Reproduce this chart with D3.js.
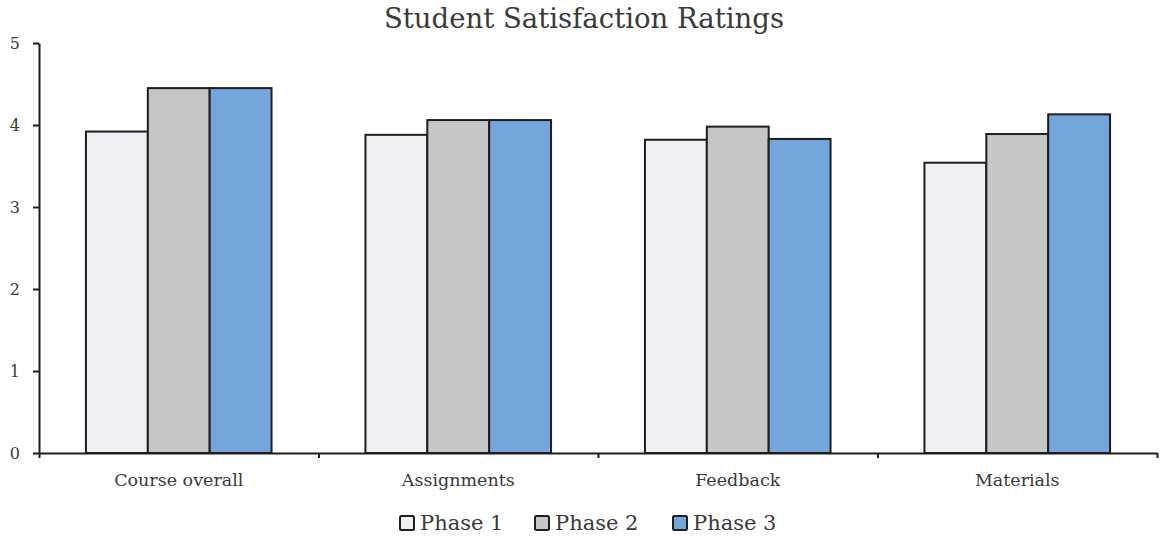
<!DOCTYPE html>
<html>
<head>
<meta charset="utf-8">
<script src="https://cdn.jsdelivr.net/npm/d3@7"></script>
<style>
  html, body { margin: 0; padding: 0; background: #ffffff; }
  svg { display: block; }
  text { font-family: "DejaVu Serif", "Liberation Serif", serif; fill: #3a3a3a; }
</style>
</head>
<body>
<svg id="chart" width="1160" height="544"></svg>
<script>
// Mean satisfaction rating per course aspect, for each phase
const categories = ["Course overall", "Assignments", "Feedback", "Materials"];
const phases = ["Phase 1", "Phase 2", "Phase 3"];
const phase1 = [3.92, 3.88, 3.82, 3.54];
const phase2 = [4.45, 4.06, 3.98, 3.89];
const phase3 = [4.45, 4.06, 3.83, 4.13];
const yTicks = [0, 1, 2, 3, 4, 5];
const title = "Student Satisfaction Ratings";

const series = [phase1, phase2, phase3];
const colors = ["#eef0f3", "#c5c6c8", "#74a6dc"];

const svg = d3.select("#chart");
const W = 1160, H = 544;
const margin = { top: 43, right: 3, bottom: 91, left: 39 };
const plotW = W - margin.left - margin.right;
const plotH = H - margin.top - margin.bottom;

const g = svg.append("g").attr("transform", `translate(${margin.left},${margin.top})`);

const x0 = d3.scaleBand().domain(categories).range([0, plotW]).padding(0);
const groupPad = x0.bandwidth() * 0.168;
const x1 = d3.scaleBand().domain(phases).range([groupPad, x0.bandwidth() - groupPad]).padding(0);
const y = d3.scaleLinear().domain([0, 5]).range([plotH, 0]);

// Bars
const rows = categories.map((c, i) => ({ cat: c, vals: phases.map((p, j) => ({ phase: p, v: series[j][i], k: j })) }));
g.selectAll("g.grp").data(rows).join("g")
  .attr("class", "grp")
  .attr("transform", d => `translate(${x0(d.cat)},0)`)
  .selectAll("rect").data(d => d.vals).join("rect")
  .attr("x", d => x1(d.phase))
  .attr("y", d => y(d.v))
  .attr("width", x1.bandwidth())
  .attr("height", d => y(0) - y(d.v))
  .attr("fill", d => colors[d.k])
  .attr("stroke", "#1e1e1e")
  .attr("stroke-width", 2);

// Y axis
const yAxis = g.append("g")
  .call(d3.axisLeft(y).tickValues(yTicks).tickFormat(d3.format("d")).tickSize(6).tickSizeOuter(0).tickPadding(13));
yAxis.select(".domain").attr("stroke", "#1e1e1e").attr("stroke-width", 2);
yAxis.selectAll(".tick line").attr("stroke", "#1e1e1e").attr("stroke-width", 2);
yAxis.selectAll(".tick text").attr("font-size", 16).attr("font-family", null).attr("fill", "#555");

// X axis: boundary ticks between categories
const xEdge = d3.scaleLinear().domain([0, categories.length]).range([0, plotW]);
const xAxis = g.append("g").attr("transform", `translate(0,${plotH})`)
  .call(d3.axisBottom(xEdge).tickValues(d3.range(categories.length + 1)).tickFormat("").tickSize(5).tickSizeOuter(0));
xAxis.select(".domain").attr("stroke", "#1e1e1e").attr("stroke-width", 2);
xAxis.selectAll(".tick line").attr("stroke", "#1e1e1e").attr("stroke-width", 2);

// Category labels
const xLab = g.append("g").attr("transform", `translate(0,${plotH})`)
  .call(d3.axisBottom(x0).tickSize(0).tickPadding(21));
xLab.select(".domain").remove();
xLab.selectAll(".tick text").attr("font-size", 17.5).attr("font-family", null).attr("fill", "#444");

// Title
svg.append("text")
  .attr("x", 584).attr("y", 28)
  .attr("text-anchor", "middle")
  .attr("font-size", 27.5)
  .text(title);

// Legend
const legendX = [400, 535, 673];
const legend = svg.append("g");
const li = legend.selectAll("g").data(phases).join("g")
  .attr("transform", (d, i) => `translate(${legendX[i]},516)`);
li.append("rect").attr("width", 14).attr("height", 14).attr("rx", 1.5)
  .attr("fill", (d, i) => colors[i]).attr("stroke", "#1e1e1e").attr("stroke-width", 2);
li.append("text").attr("x", 20).attr("y", 14).attr("font-size", 21).text(d => d);
</script>
</body>
</html>
